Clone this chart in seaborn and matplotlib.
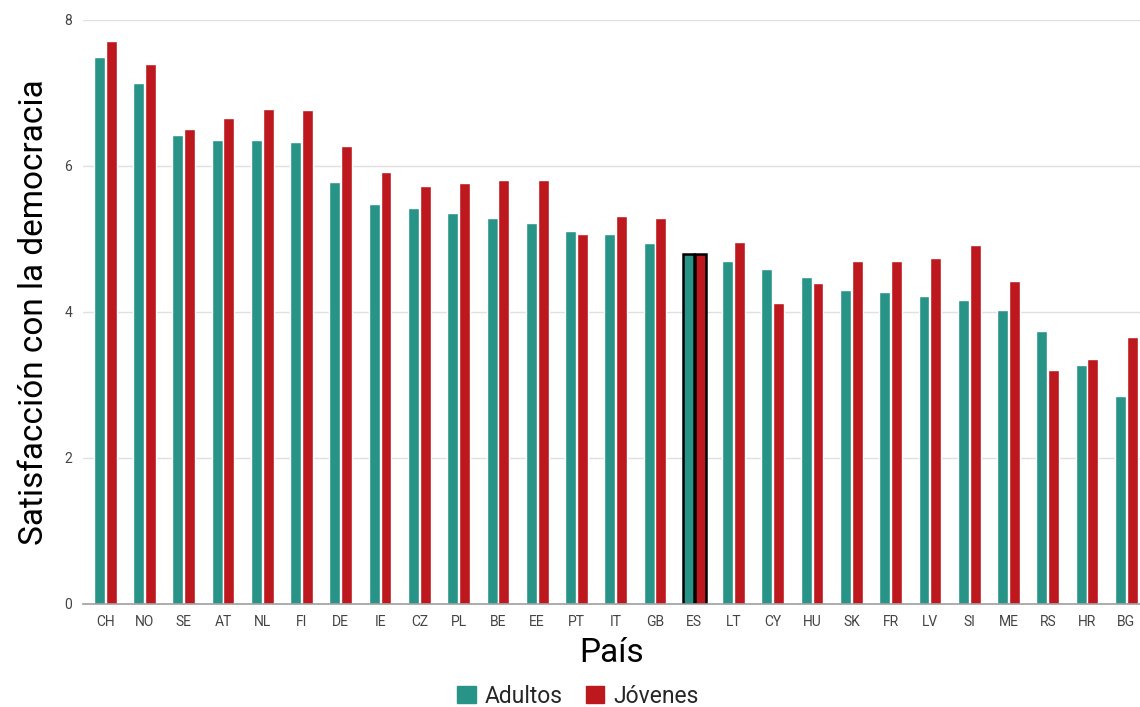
import matplotlib
matplotlib.use('Agg')
import matplotlib.pyplot as plt
import seaborn as sns
import pandas as pd

# Country codes in display order
paises = ['CH', 'NO', 'SE', 'AT', 'NL', 'FI', 'DE', 'IE', 'CZ', 'PL', 'BE', 'EE', 'PT', 'IT',
          'GB', 'ES', 'LT', 'CY', 'HU', 'SK', 'FR', 'LV', 'SI', 'ME', 'RS', 'HR', 'BG']

# Satisfaction with democracy
adultos = [7.49, 7.14, 6.42, 6.36, 6.35, 6.33, 5.78, 5.48, 5.42, 5.35, 5.28, 5.21, 5.10, 5.07,
           4.94, 4.79, 4.69, 4.59, 4.47, 4.30, 4.27, 4.21, 4.16, 4.02, 3.73, 3.27, 2.84]
jovenes = [7.71, 7.40, 6.50, 6.66, 6.78, 6.77, 6.27, 5.92, 5.72, 5.77, 5.81, 5.80, 5.07, 5.31,
           5.29, 4.79, 4.96, 4.12, 4.40, 4.70, 4.69, 4.73, 4.92, 4.42, 3.20, 3.36, 3.65]

grupos = ['Adultos', 'Jóvenes']
colores = ['#279487', '#bc181e']
destacado = 'ES'

df = pd.DataFrame({
    'País': paises * 2,
    'Grupo': [grupos[0]] * len(paises) + [grupos[1]] * len(paises),
    'Valor': adultos + jovenes,
})

sns.set_style('white')
plt.rcParams['font.family'] = ['Roboto', 'DejaVu Sans']

fig = plt.figure(figsize=(11.4, 7.07), dpi=100)
ax = fig.add_axes([0.073, 0.146, 0.927, 0.826])

sns.barplot(data=df, x='País', y='Valor', hue='Grupo', order=paises, hue_order=grupos,
            palette=colores, width=0.6, gap=0.07, saturation=1, ax=ax, legend=False)

# Outline the highlighted country's bars
idx = paises.index(destacado)
for cont in ax.containers:
    bar = cont.patches[idx]
    bar.set_edgecolor('black')
    bar.set_linewidth(1.8)

ax.set_ylim(0, 8)
ax.set_xlim(-0.56, 26.35)
ax.set_yticks([0, 2, 4, 6, 8])
ax.yaxis.grid(True, color='#e0e0e0', linewidth=1)
ax.set_axisbelow(True)
for s in ['top', 'right', 'left']:
    ax.spines[s].set_visible(False)
ax.spines['bottom'].set_color('#9e9e9e')
ax.spines['bottom'].set_linewidth(1.2)
ax.tick_params(axis='both', length=0, labelsize=10, labelcolor='#444444', pad=8)

ax.set_xlabel('País', fontsize=24, color='black', labelpad=6)
ax.set_ylabel('Satisfacción con la democracia', fontsize=24, color='black', labelpad=10)

handles = [plt.Rectangle((0, 0), 1, 1, color=c) for c in colores]
fig.legend(handles, grupos, loc='lower center', bbox_to_anchor=(0.507, -0.03), ncol=2,
           frameon=False, fontsize=16.5, handlelength=0.8, handleheight=0.8,
           handletextpad=0.4, columnspacing=1.0)

fig.savefig('out.png', dpi=100)
